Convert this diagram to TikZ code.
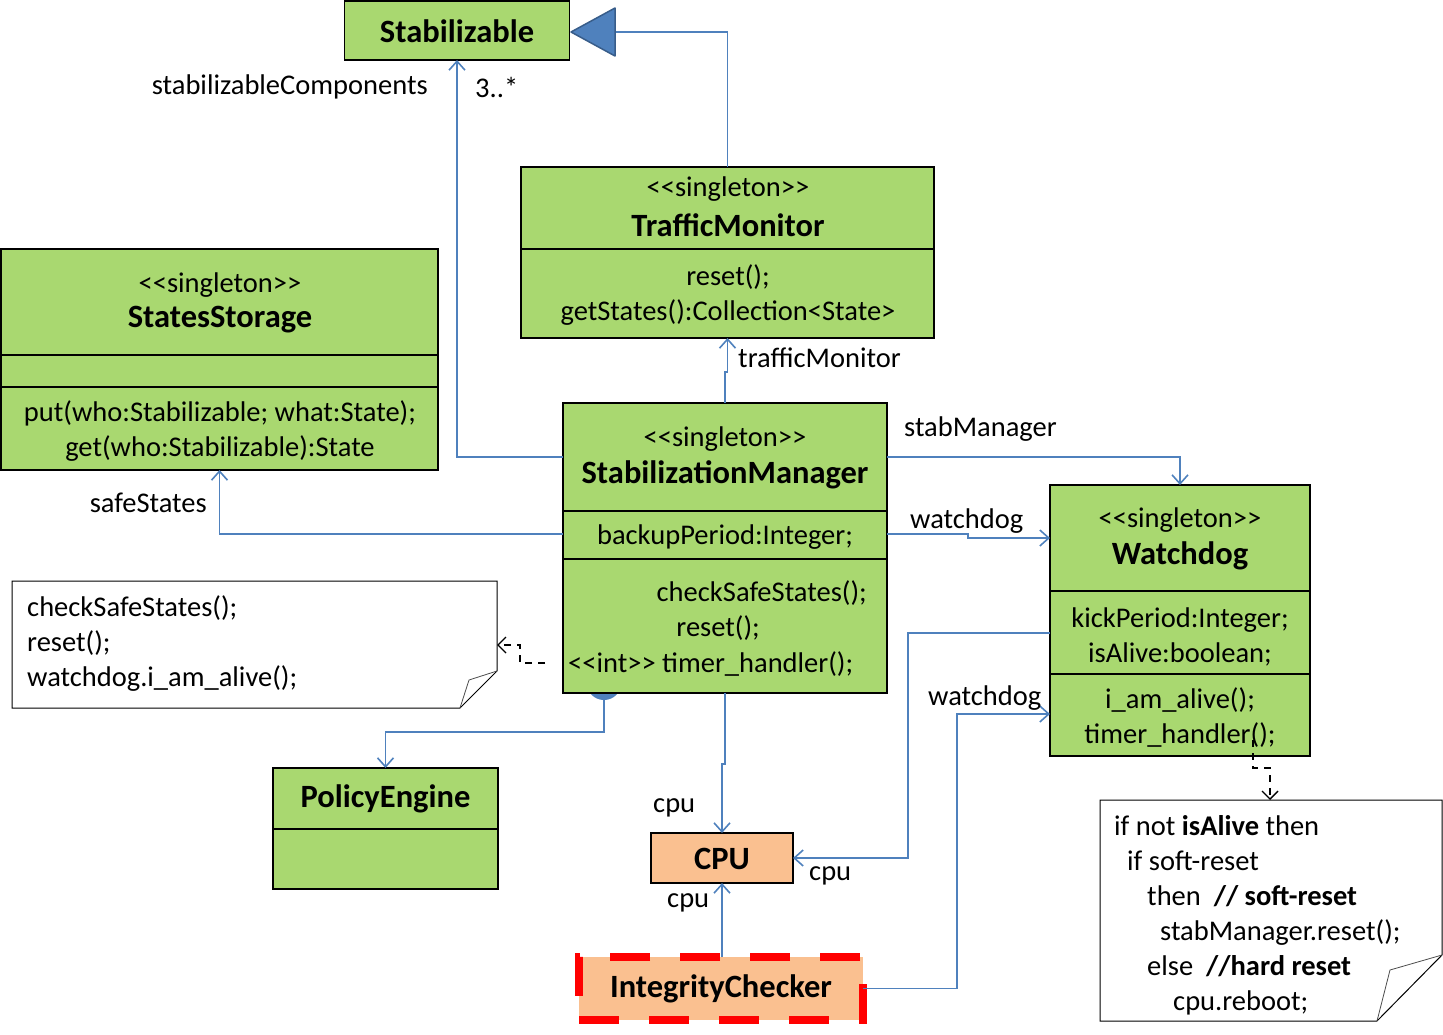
\documentclass[tikz,border=0pt]{standalone}
\usepackage{fontspec}
\setmainfont{Carlito}
\usetikzlibrary{arrows.meta}
\definecolor{umlgreen}{RGB}{169,216,112}
\definecolor{lineblue}{RGB}{79,129,189}
\definecolor{tridark}{RGB}{56,93,138}
\definecolor{peach}{RGB}{250,192,144}
\newcommand\fsn{\fontsize{28.5}{35}\selectfont}
\newcommand\fsb{\fontsize{32.5}{38}\selectfont\bfseries}
\begin{document}
\begin{tikzpicture}[x=1pt,y=-1pt,
  cls/.style={draw=black, fill=umlgreen, line width=1.3pt, inner sep=0pt, outer sep=0pt, anchor=north west},
  txt/.style={inner sep=0pt, font=\fsn, yshift=-2pt},
  ttl/.style={inner sep=0pt, font=\fsb},
  assoc/.style={draw=lineblue, line width=1.6pt, -{Straight Barb[length=9pt,width=16pt]}},
  dep/.style={draw=black, line width=1.4pt, dash pattern=on 7pt off 6pt, -{Straight Barb[length=8pt,width=16pt]}},
  divider/.style={draw=black, line width=1.3pt},
  noteline/.style={draw=black, line width=1pt},
  foldline/.style={draw=black!70, line width=0.8pt}]
\useasboundingbox (0,0) rectangle (1443,1035);

% lollipop ball under StabilizationManager
\fill[lineblue] (604,682.5) circle (17.5);
\coordinate (ball) at (604,700);

% class boxes
\node[cls, minimum width=225pt, minimum height=59pt] (stab) at (344.5,1) {};
\node[cls, minimum width=413pt, minimum height=171pt] (tm) at (521,167) {};
\node[cls, minimum width=437pt, minimum height=221pt] (ss) at (1,249) {};
\node[cls, minimum width=324pt, minimum height=290pt] (sm) at (563,403) {};
\node[cls, minimum width=260pt, minimum height=271pt] (wd) at (1050,485) {};
\node[cls, minimum width=225pt, minimum height=121pt] (pe) at (273,768) {};
\node[cls, fill=peach, minimum width=142pt, minimum height=50pt] (cpu) at (651,833) {};
\node[cls, fill=peach, draw=red, line width=8pt, dash pattern=on 40pt off 30pt,
      minimum width=284pt, minimum height=63pt] (ic) at (579,957) {};

% dividers
\draw[divider] (tm.west |- 0,249) -- (tm.east |- 0,249);
\draw[divider] (ss.west |- 0,355) -- (ss.east |- 0,355);
\draw[divider] (ss.west |- 0,387) -- (ss.east |- 0,387);
\draw[divider] (sm.west |- 0,511) -- (sm.east |- 0,511);
\draw[divider] (sm.west |- 0,559) -- (sm.east |- 0,559);
\draw[divider] (wd.west |- 0,591) -- (wd.east |- 0,591);
\draw[divider] (wd.west |- 0,674) -- (wd.east |- 0,674);
\draw[divider] (pe.west |- 0,829) -- (pe.east |- 0,829);

% class texts
\node[ttl] (stabT) at (457,31) {Stabilizable};

\node[txt] (tmS) at (728,187) {<{}<singleton>{}>};
\node[ttl] (tmT) at (728,225) {TrafficMonitor};
\node[txt, align=center] (tmM) at (728,293.5) {reset();\\getStates():Collection<State>};

\node[txt] (ssS) at (220,283) {<{}<singleton>{}>};
\node[ttl] (ssT) at (220,320) {StatesStorage};
\node[txt, align=center] (ssM) at (220,429.5) {put(who:Stabilizable; what:State);\\get(who:Stabilizable):State};

\node[txt] (smS) at (725,437) {<{}<singleton>{}>};
\node[ttl] (smT) at (725,475) {StabilizationManager};
\node[txt] (smA) at (725,535) {backupPeriod:Integer;};
\node[txt, anchor=east] (smM1) at (867,591) {checkSafeStates();};
\node[txt, anchor=east] (smM2) at (760,626) {reset();};
\node[txt, anchor=west] (smM3) at (568,662) {<{}<int>{}> timer\_handler();};

\node[txt] (wdS) at (1180,518) {<{}<singleton>{}>};
\node[ttl] (wdT) at (1180,556) {Watchdog};
\node[txt, align=center] (wdA) at (1180,634.5) {kickPeriod:Integer;\\isAlive:boolean;};
\node[txt, align=center] (wdM) at (1180,715.5) {i\_am\_alive();\\timer\_handler();};

\node[ttl] (peT) at (385.5,799) {PolicyEngine};
\node[ttl] (cpuT) at (722,859) {CPU};
\node[ttl] (icT) at (721,989) {IntegrityChecker};

% notes
\node[inner sep=0pt, outer sep=0pt, minimum width=485pt, minimum height=127pt, anchor=north west] (n1) at (12,581) {};
\draw[noteline] (12,581) -- (497,581) -- (497,671) -- (460,708) -- (12,708) -- cycle;
\draw[foldline] (497,671) -- (469,680) -- (460,708);
\node[txt, anchor=west, align=left] (n1t) at (27,641.5) {checkSafeStates();\\reset();\\watchdog.i\_am\_alive();};

\node[inner sep=0pt, outer sep=0pt, minimum width=342pt, minimum height=221pt, anchor=north west] (n2) at (1100,800) {};
\draw[noteline] (1100,800) -- (1442,800) -- (1442,955) -- (1377,1021) -- (1100,1021) -- cycle;
\draw[foldline] (1442,955) -- (1390,970) -- (1377,1021);
\node[txt, anchor=west, align=left] (n2t) at (1114,913.5) {if not \textbf{isAlive} then\\\hspace*{13pt}if soft-reset\\\hspace*{33pt}then\ \ \textbf{// soft-reset}\\\hspace*{46pt}stabManager.reset();\\\hspace*{33pt}else\ \ \textbf{//hard reset}\\\hspace*{59pt}cpu.reboot;};

% generalization
\coordinate (tribase) at (615,32);
\draw[lineblue, line width=1.6pt] (tm.north) |- (tribase);
\draw[fill=lineblue, draw=tridark, line width=1.5pt, line join=round] (571,32) -- (615,8) -- (615,56) -- cycle;

% associations
\draw[assoc] (sm.west |- 0,457) -| (stab.south);
\draw[assoc] (sm.north) -- (725,372) -- (727.5,372) -- (tm.south);
\draw[assoc] (sm.west |- 0,534) -| (ss.south);
\draw[assoc] (sm.east |- 0,457) -| (wd.north);
\draw[assoc] (sm.east |- 0,534) -- (968,534) -- (968,538) -- (wd.west |- 0,538);
\draw[assoc] (ball) -- (604,732) -| (pe.north);
\draw[assoc] (sm.south) -- (725,764) -- (722,764) -- (cpu.north);
\draw[assoc] (wd.west |- 0,633) -| (908,858) -- (cpu.east);
\draw[assoc] (ic.north -| cpu.south) -- (cpu.south);
\draw[assoc] (ic.east) -| (957,714) -- (wd.west |- 0,714);

% dependencies to notes
\coordinate (d1) at (545,663);
\draw[dep] (d1) -| (520,645) -- (n1.east |- 0,645);
\coordinate (d2) at (1253,740);
\draw[dep] (d2) |- (1270,768) -- (n2.north -| 1270,0);

% labels
\node[txt, anchor=east] (lComp) at (428,85) {stabilizableComponents};
\node[txt, anchor=west] (lMult) at (475,85) {3..*};
\node[txt, anchor=west] (lTM) at (738,356) {trafficMonitor};
\node[txt, anchor=east] (lSafe) at (207,501) {safeStates};
\node[txt, anchor=west] (lStab) at (904,427) {stabManager};
\node[txt, anchor=west] (lWd1) at (910,519) {watchdog};
\node[txt, anchor=west] (lWd2) at (928,696) {watchdog};
\node[txt, anchor=west] (lCpu1) at (653,806) {cpu};
\node[txt, anchor=west] (lCpu2) at (809,874) {cpu};
\node[txt, anchor=west] (lCpu3) at (667,901) {cpu};
\end{tikzpicture}
\end{document}
